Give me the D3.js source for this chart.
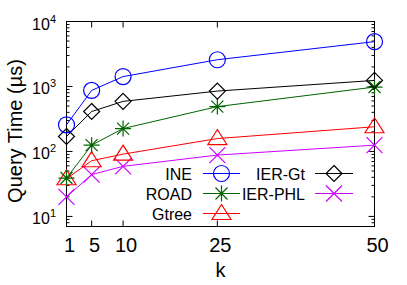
<!DOCTYPE html>
<html>
<head>
<meta charset="utf-8">
<script src="https://cdn.jsdelivr.net/npm/d3@7"></script>
<style>
  body { margin: 0; background: #fff; }
  svg { font-family: "Liberation Sans", Arial, sans-serif; }
</style>
</head>
<body>
<svg id="chart" width="407" height="285"></svg>
<script>
// data
const ks = [1, 5, 10, 25, 50];
const ine = [257, 870, 1420, 2580, 4900];
const ierGt = [170, 412, 590, 850, 1240];
const road = [39, 125, 225, 490, 980];
const gtree = [38, 72, 91, 158, 240];
const ierPhl = [20, 44, 59, 88, 125];
const yTickExps = [1, 2, 3, 4];

const series = [
  { name: 'INE', values: ine, color: '#0000ff', mark: 'circle' },
  { name: 'ROAD', values: road, color: '#006400', mark: 'star' },
  { name: 'Gtree', values: gtree, color: '#ff0000', mark: 'triangle' },
  { name: 'IER-Gt', values: ierGt, color: '#000000', mark: 'diamond' },
  { name: 'IER-PHL', values: ierPhl, color: '#cc00ff', mark: 'cross' }
];

const pLeft = 66.5, pRight = 374.5, pTop = 21.5, pBottom = 226.5;

var svg = d3.select('#chart');

var x = d3.scaleLinear().domain([1, 50]).range([pLeft, pRight]);
var y = d3.scaleLog().domain([7, 10000]).range([pBottom, pTop]);

// minor + major ticks on y (both sides, inward)
var yMinor = [];
for (let e = 0; e < 4; e++) {
  for (let m = 2; m <= 9; m++) {
    let v = m * Math.pow(10, e);
    if (v >= 7 && v <= 10000) yMinor.push(v);
  }
}
var ticks = svg.append('g').attr('stroke', '#000').attr('stroke-width', 1);
yMinor.forEach(v => {
  ticks.append('line').attr('x1', pLeft).attr('x2', pLeft + 3).attr('y1', y(v)).attr('y2', y(v));
  ticks.append('line').attr('x1', pRight).attr('x2', pRight - 3).attr('y1', y(v)).attr('y2', y(v));
});
yTickExps.forEach(e => {
  let v = Math.pow(10, e);
  ticks.append('line').attr('x1', pLeft).attr('x2', pLeft + 6).attr('y1', y(v)).attr('y2', y(v));
  ticks.append('line').attr('x1', pRight).attr('x2', pRight - 6).attr('y1', y(v)).attr('y2', y(v));
});
ks.forEach(k => {
  ticks.append('line').attr('x1', x(k)).attr('x2', x(k)).attr('y1', pBottom).attr('y2', pBottom - 6);
  ticks.append('line').attr('x1', x(k)).attr('x2', x(k)).attr('y1', pTop).attr('y2', pTop + 6);
});

// frame
svg.append('rect')
  .attr('x', pLeft).attr('y', pTop)
  .attr('width', pRight - pLeft).attr('height', pBottom - pTop)
  .attr('fill', 'none').attr('stroke', '#000').attr('stroke-width', 1);

// y tick labels 10^e
yTickExps.forEach(e => {
  let t = svg.append('text')
    .attr('x', 56).attr('y', y(Math.pow(10, e)) + 8)
    .attr('text-anchor', 'end')
    .attr('font-size', 16);
  t.append('tspan').text('10');
  t.append('tspan').attr('font-size', 11).attr('dy', -7).text(e);
});

// x tick labels
svg.append('g').selectAll('text').data(ks).enter()
  .append('text')
  .attr('x', d => x(d) + 3)
  .attr('y', 252)
  .attr('text-anchor', 'middle')
  .attr('font-size', 20)
  .text(d => d);

svg.append('text')
  .attr('x', (pLeft + pRight) / 2).attr('y', 277)
  .attr('text-anchor', 'middle').attr('font-size', 20)
  .text('k');

svg.append('text')
  .attr('transform', 'translate(22,131) rotate(-90)')
  .attr('text-anchor', 'middle').attr('font-size', 20)
  .text('Query Time (\u00b5s)');

function drawMark(g, kind, cx, cy, color) {
  const s = 8;
  if (kind === 'circle') {
    g.append('circle').attr('cx', cx).attr('cy', cy).attr('r', s)
      .attr('fill', 'none').attr('stroke', color);
  } else if (kind === 'diamond') {
    g.append('path')
      .attr('d', `M${cx},${cy - s}L${cx + s},${cy}L${cx},${cy + s}L${cx - s},${cy}Z`)
      .attr('fill', 'none').attr('stroke', color);
  } else if (kind === 'triangle') {
    g.append('path')
      .attr('d', `M${cx},${cy - 9}L${cx + 9.5},${cy + 6}L${cx - 9.5},${cy + 6}Z`)
      .attr('fill', 'none').attr('stroke', color);
  } else if (kind === 'cross') {
    g.append('path')
      .attr('d', `M${cx - s},${cy - s}L${cx + s},${cy + s}M${cx - s},${cy + s}L${cx + s},${cy - s}`)
      .attr('stroke', color);
  } else if (kind === 'star') {
    g.append('path')
      .attr('d', `M${cx - s},${cy}L${cx + s},${cy}M${cx},${cy - s}L${cx},${cy + s}` +
        `M${cx - s * 0.75},${cy - s * 0.75}L${cx + s * 0.75},${cy + s * 0.75}` +
        `M${cx - s * 0.75},${cy + s * 0.75}L${cx + s * 0.75},${cy - s * 0.75}`)
      .attr('stroke', color);
  }
}

var line = d3.line().x((d, i) => x(ks[i])).y(d => y(d));

// draw in back-to-front order so INE is on top
var order = ['IER-PHL', 'Gtree', 'ROAD', 'IER-Gt', 'INE'];
order.forEach(n => {
  let s = series.find(d => d.name === n);
  let g = svg.append('g').attr('stroke-width', 1.2);
  g.append('path').datum(s.values)
    .attr('d', line).attr('fill', 'none')
    .attr('stroke', s.color).attr('stroke-width', 1);
  s.values.forEach((v, i) => drawMark(g, s.mark, x(ks[i]), y(v), s.color));
});

// legend: two columns
var legendPos = [
  { textX: 192, x0: 203, x1: 240, y: 173.5 },
  { textX: 192, x0: 203, x1: 240, y: 193.5 },
  { textX: 192, x0: 203, x1: 240, y: 213.5 },
  { textX: 305, x0: 315, x1: 353, y: 173.5 },
  { textX: 305, x0: 315, x1: 353, y: 193.5 }
];
series.forEach((s, i) => {
  let p = legendPos[i];
  let g = svg.append('g').attr('stroke-width', 1.2);
  g.append('text').attr('x', p.textX).attr('y', p.y + 6)
    .attr('text-anchor', 'end').attr('font-size', 16).text(s.name);
  g.append('line').attr('x1', p.x0).attr('x2', p.x1).attr('y1', p.y).attr('y2', p.y)
    .attr('stroke', s.color).attr('stroke-width', 1);
  drawMark(g, s.mark, (p.x0 + p.x1) / 2, p.y, s.color);
});
</script>
</body>
</html>
